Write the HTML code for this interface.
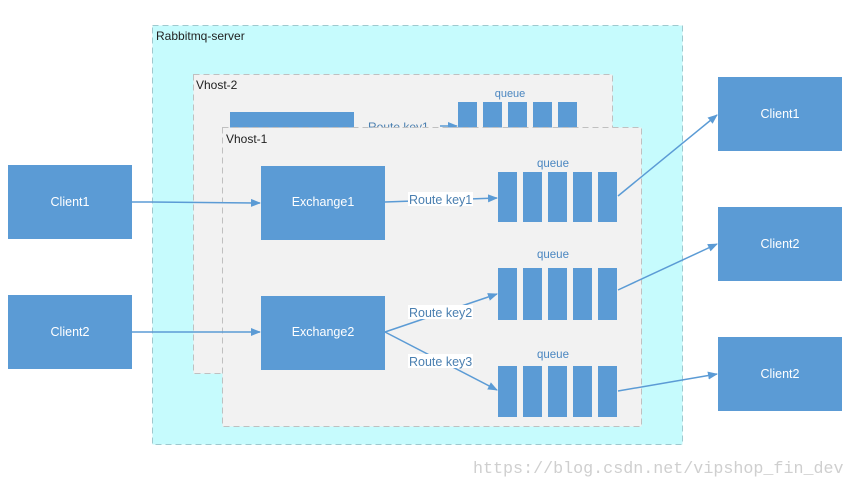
<!DOCTYPE html>
<html><head><meta charset="utf-8"><style>
body{margin:0;background:#fff;width:854px;height:488px;overflow:hidden;font-family:"Liberation Sans",sans-serif}
</style></head><body>
<svg width="854" height="488" xmlns="http://www.w3.org/2000/svg" font-family="Liberation Sans, sans-serif">
<defs><marker id="a" markerWidth="10" markerHeight="8" refX="9" refY="4" orient="auto" markerUnits="userSpaceOnUse"><path d="M0,0 L10,4 L0,8z" fill="#5b9bd5"/></marker></defs>
<rect x="152.5" y="25.5" width="530" height="419" fill="#c6fbfd" stroke="#9fc9cf" stroke-dasharray="6,4"/>
<text x="156" y="40" font-size="12" fill="#222">Rabbitmq-server</text>
<rect x="193.5" y="74.5" width="419" height="299" fill="#f2f2f2" stroke="#c0c0c0" stroke-dasharray="6,4"/>
<text x="196" y="89" font-size="12" fill="#222">Vhost-2</text>
<rect x="230" y="112" width="124" height="20" fill="#5b9bd5"/>
<text x="368" y="131" font-size="12" fill="#4a7fb0">Route key1</text>
<path d="M440,126 L457,126" stroke="#5b9bd5" stroke-width="1.5" marker-end="url(#a)"/>
<text x="510" y="97" font-size="11" fill="#4a86c0" text-anchor="middle">queue</text>
<g fill="#5b9bd5"><rect x="458" y="102" width="19" height="30"/><rect x="483" y="102" width="19" height="30"/><rect x="508" y="102" width="19" height="30"/><rect x="533" y="102" width="19" height="30"/><rect x="558" y="102" width="19" height="30"/></g>
<rect x="222.5" y="127.5" width="419" height="299" fill="#f2f2f2" stroke="#c0c0c0" stroke-dasharray="6,4"/>
<text x="226" y="143" font-size="12" fill="#222">Vhost-1</text>
<g fill="#5b9bd5">
<rect x="261" y="166" width="124" height="74"/><rect x="261" y="296" width="124" height="74"/>
<rect x="8" y="165" width="124" height="74"/><rect x="8" y="295" width="124" height="74"/>
<rect x="718" y="77" width="124" height="74"/><rect x="718" y="207" width="124" height="74"/><rect x="718" y="337" width="124" height="74"/>
<rect x="498" y="172" width="19" height="50"/><rect x="523" y="172" width="19" height="50"/><rect x="548" y="172" width="19" height="50"/><rect x="573" y="172" width="19" height="50"/><rect x="598" y="172" width="19" height="50"/>
<rect x="498" y="268" width="19" height="52"/><rect x="523" y="268" width="19" height="52"/><rect x="548" y="268" width="19" height="52"/><rect x="573" y="268" width="19" height="52"/><rect x="598" y="268" width="19" height="52"/>
<rect x="498" y="366" width="19" height="51"/><rect x="523" y="366" width="19" height="51"/><rect x="548" y="366" width="19" height="51"/><rect x="573" y="366" width="19" height="51"/><rect x="598" y="366" width="19" height="51"/>
</g>
<g font-size="12.5" fill="#fff" text-anchor="middle">
<text x="323" y="206">Exchange1</text><text x="323" y="336">Exchange2</text>
<text x="70" y="206">Client1</text><text x="70" y="336">Client2</text>
<text x="780" y="118">Client1</text><text x="780" y="248">Client2</text><text x="780" y="378">Client2</text>
</g>
<g font-size="11.5" fill="#4a86c0" text-anchor="middle"><text x="553" y="167">queue</text><text x="553" y="258">queue</text><text x="553" y="358">queue</text></g>
<g stroke="#5b9bd5" stroke-width="1.5" fill="none">
<path d="M132,202 L150,202 L260,203" marker-end="url(#a)"/>
<path d="M132,332 L260,332" marker-end="url(#a)"/>
<path d="M385,202 L497,198" marker-end="url(#a)"/>
<path d="M385,332 L497,294" marker-end="url(#a)"/>
<path d="M385,332 L497,390" marker-end="url(#a)"/>
<path d="M618,196 L717,115" marker-end="url(#a)"/>
<path d="M618,290 L717,244" marker-end="url(#a)"/>
<path d="M618,391 L717,374" marker-end="url(#a)"/>
</g>
<rect x="408" y="192" width="65" height="14" fill="#fff"/>
<text x="409" y="204" font-size="12.5" fill="#4a7fb0">Route key1</text>
<rect x="408" y="305" width="65" height="14" fill="#fff"/>
<text x="409" y="317" font-size="12.5" fill="#4a7fb0">Route key2</text>
<rect x="408" y="354" width="65" height="14" fill="#fff"/>
<text x="409" y="366" font-size="12.5" fill="#4a7fb0">Route key3</text>
<text x="473" y="473" font-size="16.7" fill="#cfcfcf" font-family="Liberation Mono, monospace">https://blog.csdn.net/vipshop_fin_dev</text>
</svg>
</body></html>
